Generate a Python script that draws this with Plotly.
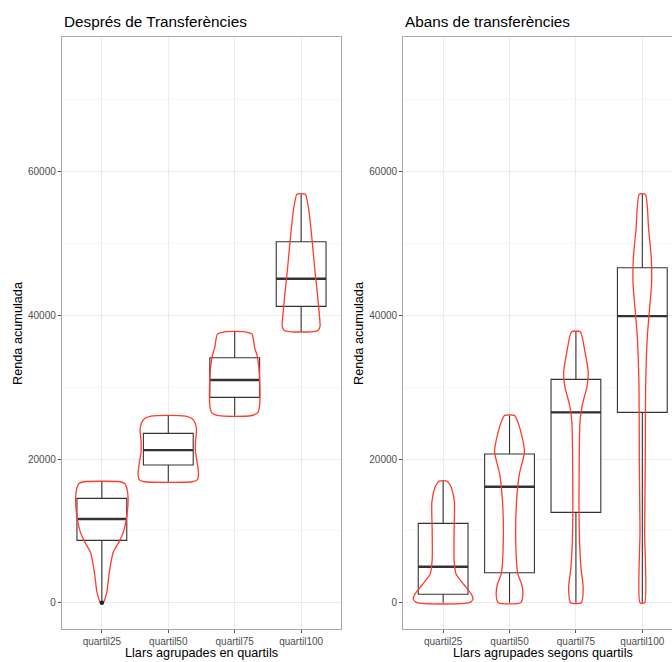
import plotly.graph_objects as go
import numpy as np

# ---------------- data ----------------
categories = ["quartil25", "quartil50", "quartil75", "quartil100"]
y_ticks = [0, 20000, 40000, 60000]

# boxplot statistics, "Després de Transferències"
despres_q1 = [8685, 19170, 28590, 41250]
despres_median = [11650, 21250, 31000, 45095]
despres_q3 = [14530, 23580, 34100, 50245]
despres_low = [0, 16840, 26030, 37720]
despres_high = [16840, 25985, 37720, 56880]
despres_outliers_cat = [0]
despres_outliers_val = [0]

# boxplot statistics, "Abans de transferències"
abans_q1 = [1170, 4180, 12580, 26500]
abans_median = [5010, 16150, 26500, 39900]
abans_q3 = [11050, 20700, 31090, 46630]
abans_low = [0, 0, 0, 0]
abans_high = [16940, 26080, 37720, 56880]

# violin profiles: levels (Renda) and full width (in category units)
despres_q25_levels = [0, 1500, 3000, 5000, 7000, 8500, 10000, 12000, 14500, 16000, 16600, 16840]
despres_q25_width = [0.04, 0.15, 0.19, 0.25, 0.34, 0.52, 0.66, 0.75, 0.79, 0.75, 0.69, 0.54]
despres_q50_levels = [16840, 17100, 18000, 19500, 21000, 22500, 24000, 25000, 25600, 25985]
despres_q50_width = [0.70, 0.87, 0.91, 0.87, 0.82, 0.82, 0.85, 0.81, 0.72, 0.52]
despres_q75_levels = [26030, 26500, 27500, 29000, 31000, 33000, 34500, 35500, 36500, 37400, 37720]
despres_q75_width = [0.48, 0.70, 0.75, 0.76, 0.75, 0.72, 0.67, 0.60, 0.57, 0.52, 0.30]
despres_q100_levels = [37720, 37900, 38500, 40000, 43000, 46000, 50000, 54000, 56000, 56880]
despres_q100_width = [0.30, 0.51, 0.57, 0.55, 0.49, 0.42, 0.34, 0.25, 0.18, 0.13]

abans_q25_levels = [0, 500, 1200, 2500, 4000, 6000, 10000, 14000, 16000, 16600, 16940]
abans_q25_width = [0.79, 0.90, 0.85, 0.63, 0.39, 0.33, 0.33, 0.34, 0.25, 0.18, 0.12]
abans_q50_levels = [0, 1000, 2500, 4000, 8000, 14000, 18000, 21000, 24000, 25500, 26080]
abans_q50_width = [0.34, 0.40, 0.37, 0.25, 0.19, 0.21, 0.30, 0.45, 0.33, 0.22, 0.15]
abans_q75_levels = [0, 2000, 5000, 10000, 20000, 25000, 27500, 30000, 32000, 35000, 37720]
abans_q75_width = [0.16, 0.22, 0.15, 0.10, 0.10, 0.12, 0.19, 0.33, 0.37, 0.27, 0.13]
abans_q100_levels = [0, 10000, 20000, 30000, 37000, 41000, 44500, 48000, 52000, 56880]
abans_q100_width = [0.07, 0.07, 0.09, 0.10, 0.15, 0.22, 0.28, 0.27, 0.19, 0.09]

despres_violins = [
    (despres_q25_levels, despres_q25_width),
    (despres_q50_levels, despres_q50_width),
    (despres_q75_levels, despres_q75_width),
    (despres_q100_levels, despres_q100_width),
]
abans_violins = [
    (abans_q25_levels, abans_q25_width),
    (abans_q50_levels, abans_q50_width),
    (abans_q75_levels, abans_q75_width),
    (abans_q100_levels, abans_q100_width),
]

# ---------------- style ----------------
W, H = 672, 662
FONT = "Liberation Sans, Arial, Helvetica, sans-serif"
BOX_COL = "#333333"
VIO_COL = "#ff3b2b"
BOX_W = 0.75
GRID = "#ebebeb"
MINOR = "#f5f5f5"
BORDER = "#a8a8a8"
TICKFONT = dict(family=FONT, size=10, color="#4d4d4d")


def px_x(p):
    return p / W


def px_y(p):
    return 1 - p / H


fig = go.Figure()
xs = list(range(len(categories)))


def add_panel(xa, ya, q1, med, q3, lo, hi, violins):
    fig.add_trace(go.Box(
        x=xs, q1=q1, median=med, q3=q3, lowerfence=lo, upperfence=hi,
        width=BOX_W, whiskerwidth=0, fillcolor="white",
        line=dict(color=BOX_COL, width=1.1), boxpoints=False,
        xaxis=xa, yaxis=ya, hoverinfo="skip", showlegend=False,
    ))
    mx, my = [], []
    for i, m in enumerate(med):
        mx += [i - BOX_W / 2, i + BOX_W / 2, None]
        my += [m, m, None]
    fig.add_trace(go.Scatter(x=mx, y=my, mode="lines",
                             line=dict(color=BOX_COL, width=2.4),
                             xaxis=xa, yaxis=ya, hoverinfo="skip", showlegend=False))
    for i, (lev, wid) in enumerate(violins):
        lev = np.array(lev, dtype=float)
        half = np.array(wid) / 2
        vx = np.concatenate([i + half, (i - half)[::-1], [i + half[0]]])
        vy = np.concatenate([lev, lev[::-1], [lev[0]]])
        fig.add_trace(go.Scatter(x=vx, y=vy, mode="lines",
                                 line=dict(color=VIO_COL, width=1.3, shape="spline", smoothing=0.6),
                                 xaxis=xa, yaxis=ya, hoverinfo="skip", showlegend=False))


add_panel("x", "y", despres_q1, despres_median, despres_q3, despres_low, despres_high, despres_violins)
fig.add_trace(go.Scatter(x=despres_outliers_cat, y=despres_outliers_val, mode="markers",
                         marker=dict(color="#222222", size=4.5),
                         xaxis="x", yaxis="y", hoverinfo="skip", showlegend=False))
add_panel("x2", "y2", abans_q1, abans_median, abans_q3, abans_low, abans_high, abans_violins)

YR = [-3660, 78760]
common_y = dict(range=YR, tickvals=y_ticks, ticktext=[str(v) for v in y_ticks],
                showgrid=True, gridcolor=GRID, gridwidth=1.1, zeroline=False,
                ticks="outside", ticklen=3, tickcolor="#555555", tickwidth=1,
                tickfont=TICKFONT, showline=True, linecolor=BORDER, linewidth=1.2,
                minor=dict(tick0=10000, dtick=20000, showgrid=True, gridcolor=MINOR,
                           gridwidth=0.8, ticks=""),
                automargin=False, fixedrange=True)
common_x = dict(tickvals=xs, ticktext=categories, showgrid=True, gridcolor=GRID,
                gridwidth=1.1, zeroline=False, ticks="outside", ticklen=3,
                tickcolor="#555555", tickwidth=1, tickfont=TICKFONT,
                showline=True, linecolor=BORDER, linewidth=1.2, mirror=True,
                automargin=False, fixedrange=True)

ydom = [px_y(629), px_y(37)]
fig.update_layout(
    width=W, height=H,
    margin=dict(l=0, r=0, t=0, b=0),
    paper_bgcolor="white", plot_bgcolor="white",
    font=dict(family=FONT),
    xaxis=dict(common_x, domain=[px_x(62), px_x(341)], range=[-0.6, 3.6], anchor="y"),
    yaxis=dict(common_y, domain=ydom, anchor="x", mirror=True),
    xaxis2=dict(common_x, domain=[px_x(403.3), 1.0], range=[-0.6, 3.447], anchor="y2"),
    yaxis2=dict(common_y, domain=ydom, anchor="x2", mirror=False),
    showlegend=False,
)

TFS = 15.3
AFS = 12.7
ann = [
    dict(text="Després de Transferències", x=px_x(62), y=px_y(21), xanchor="left", yanchor="middle",
         font=dict(size=TFS, color="black")),
    dict(text="Abans de transferències", x=px_x(403.3), y=px_y(21), xanchor="left", yanchor="middle",
         font=dict(size=TFS, color="black")),
    dict(text="Llars agrupades en quartils", x=px_x(201.5), y=px_y(653), xanchor="center",
         yanchor="middle", font=dict(size=AFS, color="black")),
    dict(text="Llars agrupades segons quartils", x=px_x(543), y=px_y(653), xanchor="center",
         yanchor="middle", font=dict(size=AFS, color="black")),
    dict(text="Renda acumulada", x=px_x(18), y=px_y(333), textangle=-90, xanchor="center",
         yanchor="middle", font=dict(size=AFS, color="black")),
    dict(text="Renda acumulada", x=px_x(359), y=px_y(333), textangle=-90, xanchor="center",
         yanchor="middle", font=dict(size=AFS, color="black")),
]
for a in ann:
    a.update(xref="paper", yref="paper", showarrow=False)
fig.update_layout(annotations=ann)

fig.write_html("out.html",
               config={"displayModeBar": False, "staticPlot": True},
               post_script="document.body.style.margin='0';document.body.style.overflow='hidden';")
